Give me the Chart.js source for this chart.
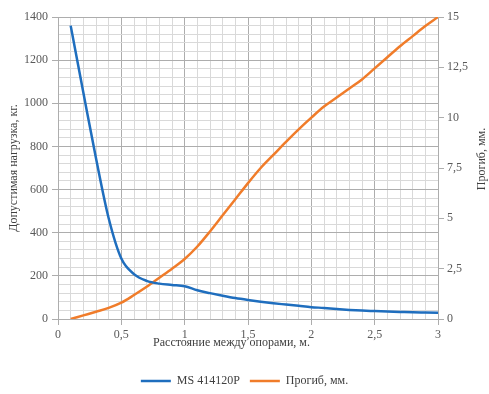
<!DOCTYPE html>
<html>
<head>
<meta charset="utf-8">
<script src="https://cdn.jsdelivr.net/npm/chart.js@4/dist/chart.umd.min.js"></script>
<style>
html,body{margin:0;padding:0;background:#fff;}
#wrap{width:489px;height:394px;position:relative;}
</style>
</head>
<body>
<div id="wrap"><canvas id="c" width="489" height="394"></canvas></div>
<script>
const distances = [0.1,0.2,0.3,0.4,0.5,0.6,0.7,0.8,0.9,1.0,1.1,1.2,1.3,1.4,1.5,1.6,1.7,1.8,1.9,2.0,2.1,2.2,2.3,2.4,2.5,2.6,2.7,2.8,2.9,3.0];
const loadKg = [1360,1050,745,467,280,208,177,164,158,152,133,120,108,97,88,80,73,67,61,55,51,46,42,39,37,35,33,31,30,29];
const deflectionMm = [0,0.18,0.36,0.55,0.81,1.19,1.6,2.05,2.5,2.98,3.6,4.35,5.15,5.95,6.75,7.5,8.15,8.8,9.42,10.0,10.55,11.0,11.45,11.9,12.45,13.0,13.55,14.05,14.55,15.0];
const seriesNames = ['MS 414120P', 'Прогиб, мм.'];
const xTitle = 'Расстояние между опорами, м.';
const yTitle = 'Допустимая нагрузка, кг.';
const y1Title = 'Прогиб, мм.';

const FONT = 'Liberation Serif';
const TICK_COLOR = '#595959';
const TITLE_COLOR = '#404040';
const MAJOR = '#ADADAD';
const MINOR = '#D9D9D9';
const BLUE = '#1F6EBE';
const ORANGE = '#F07C2A';

const fmt = v => String(Math.round(v * 10) / 10).replace('.', ',');
const isMajorX = v => Math.round(v * 10) % 5 === 0;
const isMajorY = v => Math.round(v) % 200 === 0;

const rightTitlePlugin = {
  id: 'rightTitle',
  afterDraw(chart) {
    const s = chart.scales.y1;
    const ctx = chart.ctx;
    ctx.save();
    ctx.font = '12px "' + FONT + '"';
    ctx.fillStyle = TITLE_COLOR;
    ctx.textAlign = 'center';
    ctx.textBaseline = 'middle';
    ctx.translate(s.right - 7, (chart.chartArea.top + chart.chartArea.bottom) / 2 - 9);
    ctx.rotate(-Math.PI / 2);
    ctx.fillText(y1Title, 0, 0);
    ctx.restore();
  }
};

new Chart(document.getElementById('c'), {
  type: 'line',
  data: {
    datasets: [
      {
        label: seriesNames[0],
        data: distances.map((d, i) => ({x: d, y: loadKg[i]})),
        borderColor: BLUE,
        backgroundColor: BLUE,
        borderWidth: 2.5,
        pointRadius: 0,
        cubicInterpolationMode: 'monotone',
        yAxisID: 'y'
      },
      {
        label: seriesNames[1],
        data: distances.map((d, i) => ({x: d, y: deflectionMm[i]})),
        borderColor: ORANGE,
        backgroundColor: ORANGE,
        borderWidth: 2.5,
        pointRadius: 0,
        cubicInterpolationMode: 'monotone',
        yAxisID: 'y1'
      }
    ]
  },
  options: {
    responsive: false,
    animation: false,
    devicePixelRatio: 1,
    layout: {padding: {top: 17, left: 0, right: 0, bottom: -3}},
    plugins: {
      legend: {
        position: 'bottom',
        labels: {
          usePointStyle: true,
          pointStyle: 'line',
          pointStyleWidth: 30,
          padding: 10,
          color: TITLE_COLOR,
          font: {family: FONT, size: 12}
        }
      },
      tooltip: {enabled: false}
    },
    scales: {
      x: {
        type: 'linear',
        min: 0, max: 3,
        afterFit: s => { s.height = 46; },
        ticks: {
          stepSize: 0.1, autoSkip: false, maxRotation: 0, padding: 3,
          color: TICK_COLOR, font: {family: FONT, size: 12},
          callback: v => isMajorX(v) ? fmt(v) : ''
        },
        grid: {
          color: c => isMajorX(c.tick.value) ? MAJOR : MINOR,
          tickColor: c => isMajorX(c.tick.value) ? MAJOR : 'rgba(0,0,0,0)',
          tickLength: 6, lineWidth: 1
        },
        border: {color: MAJOR},
        title: {
          display: true,
          text: xTitle + '\u00A0'.repeat(11),
          color: TITLE_COLOR,
          font: {family: FONT, size: 12},
          padding: {top: 0, bottom: 15}
        }
      },
      y: {
        type: 'linear',
        position: 'left',
        min: 0, max: 1400,
        afterFit: s => { s.width = 58; },
        ticks: {
          stepSize: 40, autoSkip: false, padding: 4,
          color: TICK_COLOR, font: {family: FONT, size: 12},
          callback: v => isMajorY(v) ? String(Math.round(v)) : ''
        },
        grid: {
          color: c => isMajorY(c.tick.value) ? MAJOR : MINOR,
          tickColor: c => isMajorY(c.tick.value) ? MAJOR : 'rgba(0,0,0,0)',
          tickLength: 6, lineWidth: 1
        },
        border: {color: MAJOR},
        title: {
          display: true,
          text: yTitle,
          color: TITLE_COLOR,
          font: {family: FONT, size: 12},
          padding: {top: 7, bottom: 0}
        }
      },
      y1: {
        type: 'linear',
        position: 'right',
        min: 0, max: 15,
        afterFit: s => { s.width = 51; },
        ticks: {
          stepSize: 2.5, autoSkip: false, padding: 3,
          color: TICK_COLOR, font: {family: FONT, size: 12},
          callback: v => fmt(v)
        },
        grid: {
          drawOnChartArea: false,
          color: MAJOR,
          tickColor: MAJOR,
          tickLength: 6
        },
        border: {color: MAJOR}
      }
    }
  },
  plugins: [rightTitlePlugin]
});
</script>
</body>
</html>
